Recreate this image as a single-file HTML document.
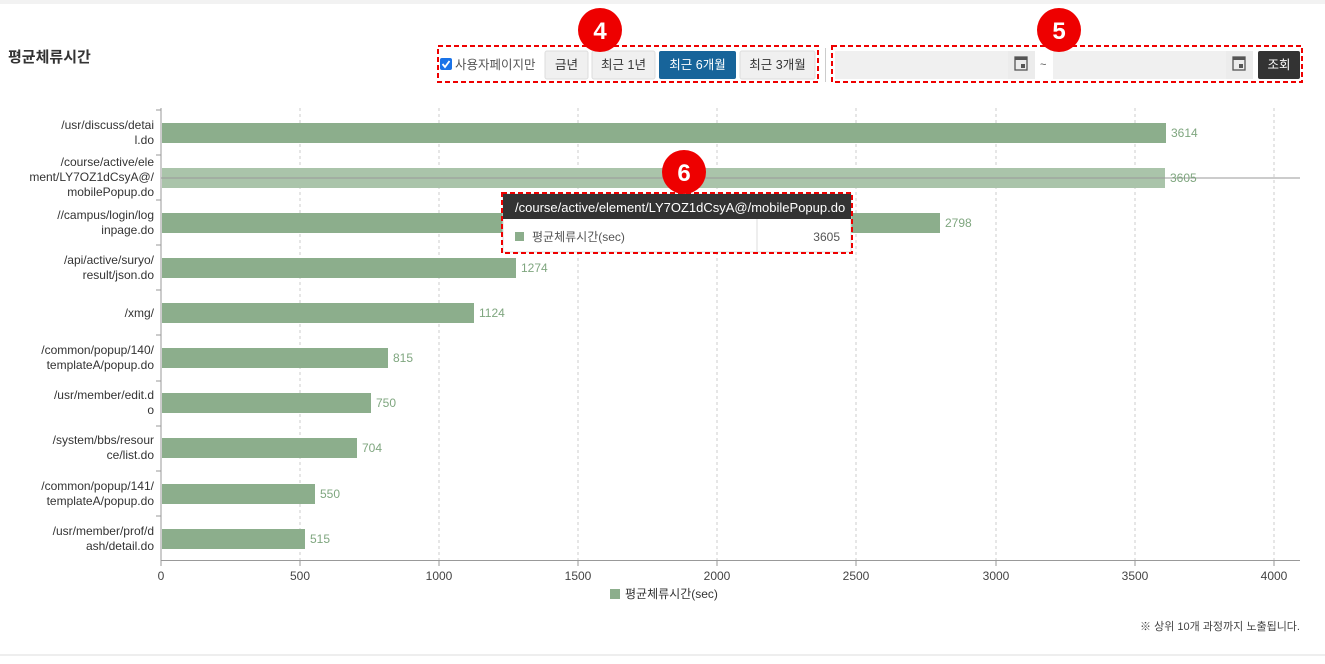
<!DOCTYPE html>
<html><head><meta charset="utf-8"><style>
body{margin:0;width:1325px;height:659px;background:#fff;font-family:"Liberation Sans","Noto Sans CJK KR",sans-serif;overflow:hidden}
</style></head><body>
<svg width="1325" height="659" xmlns="http://www.w3.org/2000/svg" font-family="Liberation Sans, Noto Sans CJK KR, sans-serif">
<rect x="0" y="0" width="1325" height="4" fill="#f2f2f2"/>
<rect x="0" y="654" width="1325" height="2" fill="#eee"/>
<text x="8" y="62" font-size="15" font-weight="bold" fill="#333">평균체류시간</text>
<!-- controls -->
<rect x="440" y="58" width="12" height="12" rx="2" fill="#1a73e8"/>
<path d="M442.5 64 l2.5 3 l4.5-6" stroke="#fff" stroke-width="1.8" fill="none"/>
<text x="455" y="69" font-size="12.5" fill="#555">사용자페이지만</text>
<rect x="545" y="51" width="43" height="28" rx="2" fill="#f0f0f0" stroke="#ddd"/>
<text x="566.5" y="69" font-size="12.5" fill="#333" text-anchor="middle">금년</text>
<rect x="592" y="51" width="63" height="28" rx="2" fill="#f0f0f0" stroke="#ddd"/>
<text x="623.5" y="69" font-size="12.5" fill="#333" text-anchor="middle">최근 1년</text>
<rect x="659" y="51" width="77" height="28" rx="2" fill="#17649a"/>
<text x="697.5" y="69" font-size="12.5" fill="#fff" text-anchor="middle">최근 6개월</text>
<rect x="740" y="51" width="75" height="28" rx="2" fill="#f0f0f0" stroke="#ddd"/>
<text x="777.5" y="69" font-size="12.5" fill="#333" text-anchor="middle">최근 3개월</text>
<rect x="825" y="48" width="1" height="34" fill="#ccc"/>
<rect x="835" y="51" width="173" height="28" fill="#f0f0f0"/>
<rect x="1008" y="51" width="27" height="28" fill="#ececec"/>
<rect x="1015" y="57" width="12" height="13" fill="none" stroke="#555" stroke-width="1.3"/><rect x="1015" y="57" width="12" height="3" fill="#555"/><rect x="1021" y="64" width="4" height="4" fill="#555"/>
<text x="1040" y="68" font-size="11" fill="#555">~</text>
<rect x="1053" y="51" width="173" height="28" fill="#f0f0f0"/>
<rect x="1226" y="51" width="27" height="28" fill="#ececec"/>
<rect x="1233" y="57" width="12" height="13" fill="none" stroke="#555" stroke-width="1.3"/><rect x="1233" y="57" width="12" height="3" fill="#555"/><rect x="1239" y="64" width="4" height="4" fill="#555"/>
<rect x="1258" y="51" width="42" height="28" rx="2" fill="#333"/>
<text x="1279" y="69" font-size="12.5" fill="#fff" text-anchor="middle">조회</text>
<!-- grid -->
<g stroke="#ccc" stroke-dasharray="3,3">
<line x1="300" y1="108" x2="300" y2="560"/><line x1="439" y1="108" x2="439" y2="560"/><line x1="578" y1="108" x2="578" y2="560"/><line x1="717" y1="108" x2="717" y2="560"/><line x1="856" y1="108" x2="856" y2="560"/><line x1="996" y1="108" x2="996" y2="560"/><line x1="1135" y1="108" x2="1135" y2="560"/><line x1="1274" y1="108" x2="1274" y2="560"/>
</g>
<line x1="161" y1="108" x2="161" y2="561" stroke="#999"/>
<line x1="161" y1="560.5" x2="1300" y2="560.5" stroke="#999"/>
<g stroke="#999">
<line x1="156" y1="110" x2="161" y2="110"/><line x1="156" y1="155" x2="161" y2="155"/><line x1="156" y1="200" x2="161" y2="200"/><line x1="156" y1="245" x2="161" y2="245"/><line x1="156" y1="290" x2="161" y2="290"/><line x1="156" y1="335" x2="161" y2="335"/><line x1="156" y1="381" x2="161" y2="381"/><line x1="156" y1="426" x2="161" y2="426"/><line x1="156" y1="471" x2="161" y2="471"/><line x1="156" y1="516" x2="161" y2="516"/>
<line x1="161" y1="561" x2="161" y2="566"/><line x1="300" y1="561" x2="300" y2="566"/><line x1="439" y1="561" x2="439" y2="566"/><line x1="578" y1="561" x2="578" y2="566"/><line x1="717" y1="561" x2="717" y2="566"/><line x1="856" y1="561" x2="856" y2="566"/><line x1="996" y1="561" x2="996" y2="566"/><line x1="1135" y1="561" x2="1135" y2="566"/><line x1="1274" y1="561" x2="1274" y2="566"/>
</g>
<g font-size="12" fill="#444" text-anchor="middle">
<text x="161" y="580">0</text><text x="300" y="580">500</text><text x="439" y="580">1000</text><text x="578" y="580">1500</text><text x="717" y="580">2000</text><text x="856" y="580">2500</text><text x="996" y="580">3000</text><text x="1135" y="580">3500</text><text x="1274" y="580">4000</text>
</g>
<!-- bars -->
<g fill="#8cae8c">
<rect x="162" y="123" width="1004" height="20"/>
<rect x="162" y="168" width="1003" height="20" fill="#aac4aa"/>
<rect x="162" y="213" width="778" height="20"/>
<rect x="162" y="258" width="354" height="20"/>
<rect x="162" y="303" width="312" height="20"/>
<rect x="162" y="348" width="226" height="20"/>
<rect x="162" y="393" width="209" height="20"/>
<rect x="162" y="438" width="195" height="20"/>
<rect x="162" y="484" width="153" height="20"/>
<rect x="162" y="529" width="143" height="20"/>
</g>
<line x1="161" y1="178" x2="1300" y2="178" stroke="#999"/>
<g font-size="12" fill="#7fa67f">
<text x="1171" y="137">3614</text><text x="1170" y="182">3605</text><text x="945" y="227">2798</text><text x="521" y="272">1274</text><text x="479" y="317">1124</text><text x="393" y="362">815</text><text x="376" y="407">750</text><text x="362" y="452">704</text><text x="320" y="498">550</text><text x="310" y="543">515</text>
</g>
<g font-size="12" fill="#333" text-anchor="end">
<text x="154" y="129">/usr/discuss/detai</text><text x="154" y="144">l.do</text>
<text x="154" y="166">/course/active/ele</text><text x="154" y="181">ment/LY7OZ1dCsyA@/</text><text x="154" y="196">mobilePopup.do</text>
<text x="154" y="219">//campus/login/log</text><text x="154" y="234">inpage.do</text>
<text x="154" y="264">/api/active/suryo/</text><text x="154" y="279">result/json.do</text>
<text x="154" y="317">/xmg/</text>
<text x="154" y="354">/common/popup/140/</text><text x="154" y="369">templateA/popup.do</text>
<text x="154" y="399">/usr/member/edit.d</text><text x="154" y="414">o</text>
<text x="154" y="444">/system/bbs/resour</text><text x="154" y="459">ce/list.do</text>
<text x="154" y="490">/common/popup/141/</text><text x="154" y="505">templateA/popup.do</text>
<text x="154" y="535">/usr/member/prof/d</text><text x="154" y="550">ash/detail.do</text>
</g>
<!-- tooltip -->
<rect x="503" y="194" width="348" height="58" fill="#fff" stroke="#ddd"/>
<rect x="503" y="194" width="348" height="25" fill="#333"/>
<text x="515" y="212" font-size="13" fill="#fff">/course/active/element/LY7OZ1dCsyA@/mobilePopup.do</text>
<line x1="757" y1="219" x2="757" y2="252" stroke="#ddd"/>
<rect x="515" y="232" width="9" height="9" fill="#8cae8c"/>
<text x="532" y="241" font-size="12" fill="#555">평균체류시간(sec)</text>
<text x="840" y="241" font-size="12" fill="#555" text-anchor="end">3605</text>
<!-- legend -->
<rect x="610" y="589" width="10" height="10" fill="#8cae8c"/>
<text x="625" y="598" font-size="12" fill="#333">평균체류시간(sec)</text>
<text x="1300" y="630" font-size="11" fill="#444" text-anchor="end">※ 상위 10개 과정까지 노출됩니다.</text>
<!-- annotations -->
<g fill="none" stroke="#e00" stroke-width="2" stroke-dasharray="5,3">
<rect x="438" y="46" width="380" height="36"/>
<rect x="832" y="46" width="470" height="36"/>
<rect x="502" y="193" width="350" height="60"/>
</g>
<g font-size="24" font-weight="bold" fill="#fff" text-anchor="middle">
<circle cx="600" cy="30" r="22" fill="#e00"/><text x="600" y="39">4</text>
<circle cx="1059" cy="30" r="22" fill="#e00"/><text x="1059" y="39">5</text>
<circle cx="684" cy="172" r="22" fill="#e00"/><text x="684" y="181">6</text>
</g>
</svg>
</body></html>
